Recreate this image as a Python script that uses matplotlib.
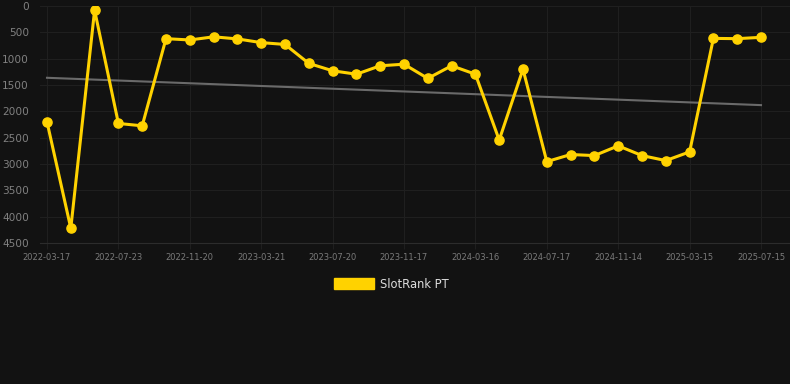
import matplotlib
matplotlib.use("Agg")
import matplotlib.pyplot as plt
from matplotlib.patches import Patch
import numpy as np

tick_labels = ["2022-03-17", "2022-07-23", "2022-11-20", "2023-03-21", "2023-07-20",
               "2023-11-17", "2024-03-16", "2024-07-17", "2024-11-14", "2025-03-15",
               "2025-07-15"]
rank_values = [2200, 4220, 80, 2230, 2275, 620, 645, 585, 625, 695,
               730, 1090, 1230, 1295, 1135, 1105, 1375, 1135, 1295, 2545,
               1200, 2955, 2820, 2840, 2655, 2840, 2935, 2770, 615, 620, 595]
trend_values = [1363, 1882]
series_name = "SlotRank PT"

BG = "#121212"
GOLD = "#FFD200"

fig = plt.figure(figsize=(7.9, 3.84), dpi=100, facecolor=BG)
ax = fig.add_axes([40/790, 1-243/384, 750/790, 237/384], facecolor=BG)

n = len(rank_values)
x = np.arange(n)
ax.plot([x[0], x[-1]], trend_values, color="#6a6a6a", lw=1.5, zorder=2)
ax.plot(x, rank_values, color=GOLD, lw=2.2, marker="o", ms=6.6, zorder=3,
        solid_joinstyle="round")

ax.set_ylim(4500, 0)
ax.set_yticks(np.arange(0, 4501, 500))
ax.set_xlim(-7/23.8, (n-1) + 29/23.8)
ax.set_xticks(x[::3])
ax.set_xticklabels(tick_labels)

ax.grid(True, color="#1f1f1f", lw=0.8)
for s in ["top", "right", "left"]:
    ax.spines[s].set_visible(False)
ax.spines["bottom"].set_color("#2c2c2c")
ax.tick_params(axis="y", colors="#808080", labelsize=7.6, length=0, pad=8)
ax.tick_params(axis="x", colors="#7a7a7a", labelsize=6.0, length=4, color="#1f1f1f", pad=3)

handle = Patch(facecolor=GOLD, edgecolor=GOLD)
leg = fig.legend([handle], [series_name], loc="center", bbox_to_anchor=(0.495, 1-284/384),
                 frameon=False, fontsize=8.3, labelcolor="#dddddd",
                 handlelength=3.5, handleheight=1.0, handletextpad=0.5)

fig.savefig("out.png", dpi=100, facecolor=BG)
